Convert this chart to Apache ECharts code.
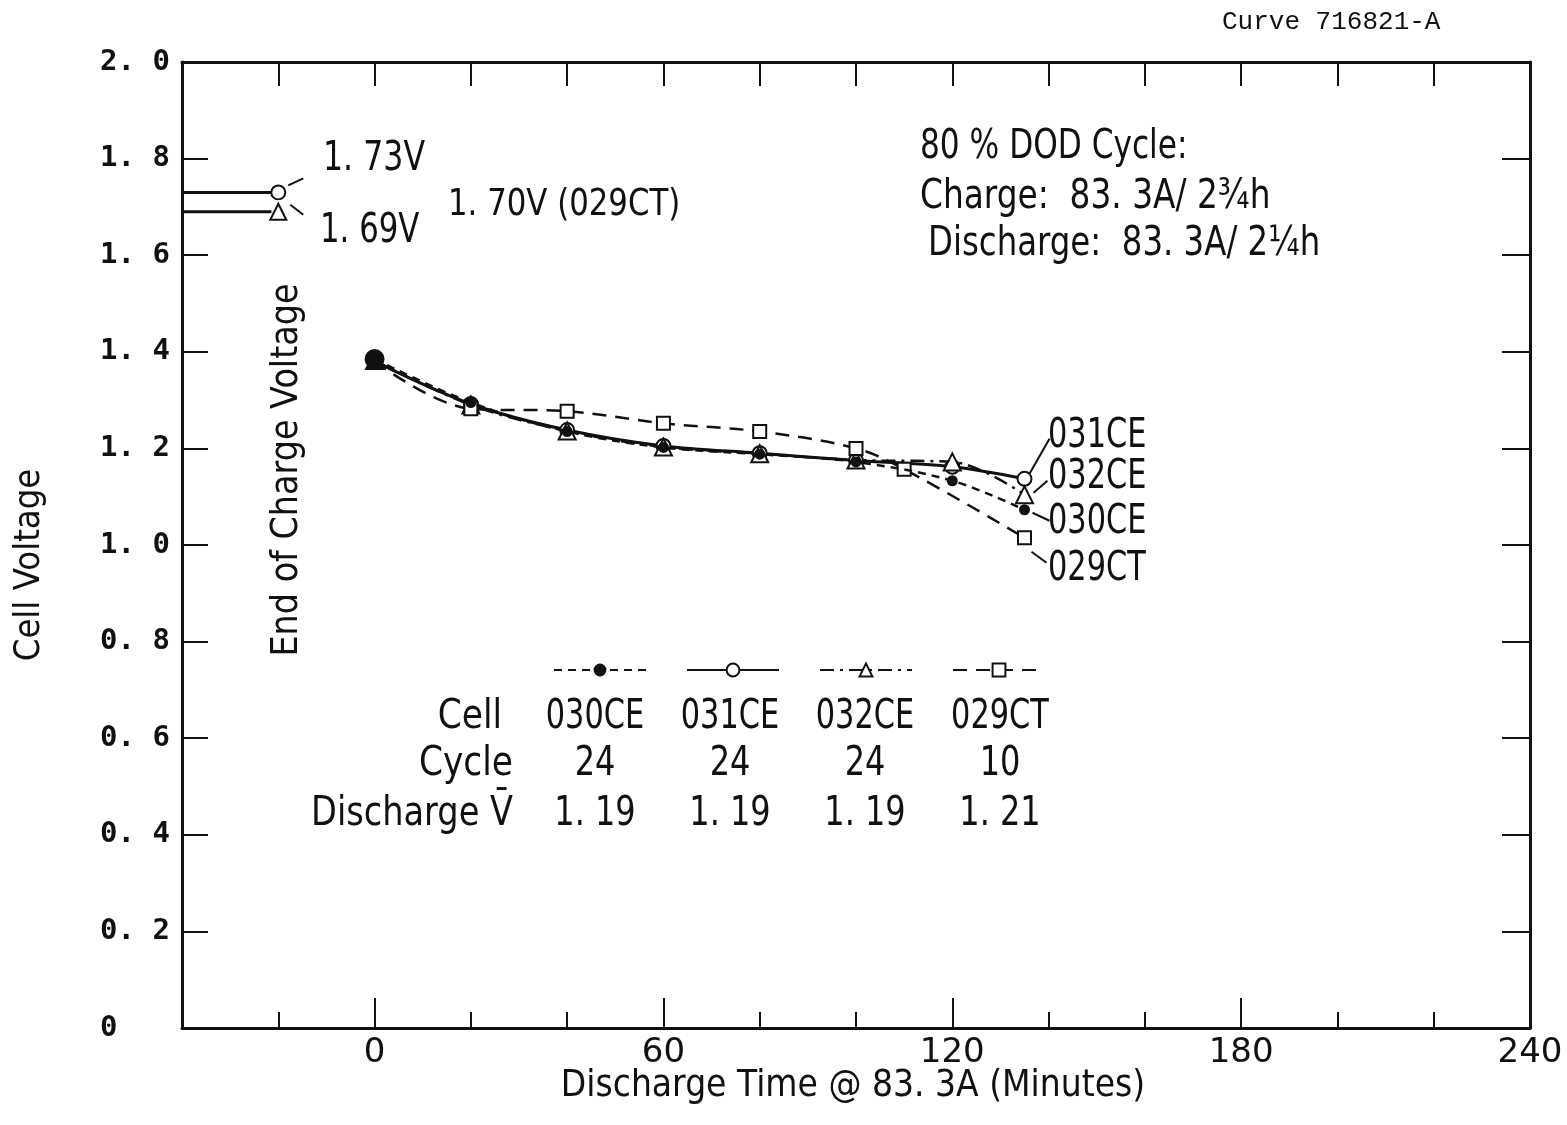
<!DOCTYPE html>
<html><head><meta charset="utf-8">
<script src="https://cdn.jsdelivr.net/npm/echarts@6/dist/echarts.min.js"></script>
<style>html,body{margin:0;padding:0;background:#fff}#c{width:1567px;height:1125px}</style>
</head><body><div id="c"></div>
<script>
// ---- data ----
const times      = [0, 20, 40, 60, 80, 100, 120, 135];
const times029   = [0, 20, 40, 60, 80, 100, 110, 135];
const v030CE     = [1.385, 1.295, 1.235, 1.202, 1.188, 1.172, 1.133, 1.073];
const v031CE     = [1.380, 1.292, 1.238, 1.205, 1.190, 1.175, 1.162, 1.137];
const v032CE     = [1.382, 1.290, 1.236, 1.203, 1.189, 1.176, 1.172, 1.104];
const v029CT     = [1.380, 1.282, 1.277, 1.252, 1.235, 1.200, 1.157, 1.015];
const eocStart   = -40;
const eocTime    = -20;
const eocCells   = ['031CE', '029CT', '032CE'];
const eocVolts   = [1.73, 1.70, 1.69];
const cells      = ['030CE', '031CE', '032CE', '029CT'];
const cycles     = ['24', '24', '24', '10'];
const meanV      = ['1. 19', '1. 19', '1. 19', '1. 21'];
const xLabelVals = [0, 60, 120, 180, 240];
const xMajorTicks = [0, 60, 120, 180];

const SANS = "'DejaVu Sans','Noto Sans',sans-serif";
const MONO = "'DejaVu Sans Mono','Liberation Mono',monospace";
const BLACK = '#111';

function pairs(xs, ys) { return xs.map((x, i) => [x, ys[i]]); }

const chart = echarts.init(document.getElementById('c'), null, {renderer: 'canvas'});

const baseX = {type: 'value', min: -40, max: 240, interval: 20, splitLine: {show: false}};
const option = {
  backgroundColor: '#fff',
  animation: false,
  grid: {left: 182, right: 37, top: 62, bottom: 97, containLabel: false},
  xAxis: [
    Object.assign({}, baseX, {
      position: 'bottom',
      axisLine: {show: true, onZero: false, lineStyle: {color: BLACK, width: 3}},
      axisTick: {show: true, inside: true, length: 16, lineStyle: {color: BLACK, width: 2}},
      axisLabel: {
        show: true, margin: 8, color: BLACK, fontFamily: SANS, fontSize: 34,
        formatter: v => (xLabelVals.indexOf(v) >= 0 ? String(v) : '')
      }
    }),
    Object.assign({}, baseX, {
      position: 'bottom',
      axisLine: {show: false, onZero: false},
      axisTick: {show: true, inside: true, length: 30, customValues: xMajorTicks, lineStyle: {color: BLACK, width: 2}},
      axisLabel: {show: false}
    }),
    Object.assign({}, baseX, {
      position: 'top',
      axisLine: {show: true, onZero: false, lineStyle: {color: BLACK, width: 3}},
      axisTick: {show: true, inside: true, length: 24, lineStyle: {color: BLACK, width: 2}},
      axisLabel: {show: false}
    })
  ],
  yAxis: [
    {
      type: 'value', min: 0, max: 2, interval: 0.2, position: 'left',
      splitLine: {show: false},
      axisLine: {show: true, onZero: false, lineStyle: {color: BLACK, width: 3}},
      axisTick: {show: true, inside: true, length: 26, lineStyle: {color: BLACK, width: 2}},
      axisLabel: {
        show: true, align: 'left', margin: 82, color: BLACK,
        fontFamily: MONO, fontWeight: 'bold', fontSize: 29,
        formatter: v => (v === 0 ? '0' : v.toFixed(1).replace('.', '. '))
      }
    },
    {
      type: 'value', min: 0, max: 2, interval: 0.2, position: 'right',
      splitLine: {show: false},
      axisLine: {show: true, onZero: false, lineStyle: {color: BLACK, width: 3}},
      axisTick: {show: true, inside: true, length: 28, lineStyle: {color: BLACK, width: 2}},
      axisLabel: {show: false}
    }
  ],
  legend: {
    data: cells, left: 548, top: 657, orient: 'horizontal',
    itemWidth: 92, itemHeight: 16, itemGap: 39,
    formatter: () => '', textStyle: {fontSize: 1},
    selectedMode: false
  },
  series: [
    {
      name: '031CE', type: 'line', data: pairs(times, v031CE), smooth: 0.35,
      symbol: 'emptyCircle', symbolSize: 14, z: 3,
      itemStyle: {color: BLACK, borderColor: BLACK, borderWidth: 2.5},
      lineStyle: {color: BLACK, width: 3, type: 'solid'}
    },
    {
      name: '032CE', type: 'line', data: pairs(times, v032CE), smooth: 0.35,
      symbol: 'emptyTriangle', symbolSize: 17, z: 3,
      itemStyle: {color: BLACK, borderColor: BLACK, borderWidth: 2.5},
      lineStyle: {color: BLACK, width: 2.5, type: [14, 6, 3, 6]}
    },
    {
      name: '029CT', type: 'line', data: pairs(times029, v029CT), smooth: 0.35,
      symbol: 'emptyRect', symbolSize: 13, z: 3,
      itemStyle: {color: BLACK, borderColor: BLACK, borderWidth: 2.5},
      lineStyle: {color: BLACK, width: 2.5, type: [14, 9]}
    },
    {
      name: '030CE', type: 'line', data: pairs(times, v030CE), smooth: 0.35,
      symbol: 'circle', z: 5,
      symbolSize: (val, p) => (p.dataIndex === 0 ? 20 : 11),
      itemStyle: {color: BLACK},
      lineStyle: {color: BLACK, width: 2.5, type: [8, 6]}
    },
    // end-of-charge voltages
    {
      name: 'eoc-' + eocCells[0], type: 'line', silent: true, z: 3,
      data: [{value: [eocStart, eocVolts[0]], symbol: 'none'}, {value: [eocTime, eocVolts[0]]}],
      symbol: 'emptyCircle', symbolSize: 14,
      itemStyle: {color: BLACK, borderColor: BLACK, borderWidth: 2.5},
      lineStyle: {color: BLACK, width: 3}
    },
    {
      name: 'eoc-' + eocCells[1], type: 'scatter', silent: true, z: 3,
      data: [[eocTime, eocVolts[1]]],
      symbol: 'emptyRect', symbolSize: 12,
      itemStyle: {color: '#fff', borderColor: BLACK, borderWidth: 2.5}
    },
    {
      name: 'eoc-' + eocCells[2], type: 'line', silent: true, z: 3,
      data: [{value: [eocStart, eocVolts[2]], symbol: 'none'}, {value: [eocTime, eocVolts[2]]}],
      symbol: 'emptyTriangle', symbolSize: 16,
      itemStyle: {color: BLACK, borderColor: BLACK, borderWidth: 2.5},
      lineStyle: {color: BLACK, width: 3}
    }
  ]
};
chart.setOption(option);

// ---- annotations ----
function px(x, y) { return chart.convertToPixel({xAxisIndex: 0, yAxisIndex: 0}, [x, y]); }
function txt(text, x, y, size, align, sx, extra, family) {
  return Object.assign({
    type: 'text', x: x, y: y, silent: true, z: 50, scaleX: sx || 1,
    style: {text: text, fill: BLACK, font: 'normal ' + size + 'px ' + (family || SANS),
            textAlign: align || 'left', textVerticalAlign: 'middle'}
  }, extra || {});
}
function seg(a, b) {
  return {type: 'line', silent: true, z: 50,
    shape: {x1: a[0], y1: a[1], x2: b[0], y2: b[1]},
    style: {stroke: BLACK, lineWidth: 2}};
}
const g = [];
g.push(txt('Curve 716821-A', 1222, 22, 26, 'left', 1, null, "'Liberation Mono',monospace"));
g.push(txt('80 % DOD Cycle:', 920, 148, 40, 'left', 0.78));
g.push(txt('Charge:  83. 3A/ 2\u00BEh', 920, 198, 40, 'left', 0.82));
g.push(txt('Discharge:  83. 3A/ 2\u00BCh', 928, 245, 40, 'left', 0.81));
g.push(txt('End of Charge Voltage', 287, 470, 38, 'center', 0.88, {rotation: Math.PI / 2}));
g.push(txt('Cell Voltage', 30, 565, 36, 'center', 0.9, {rotation: Math.PI / 2}));
g.push(txt('Discharge Time @ 83. 3A (Minutes)', 853, 1086, 38, 'center', 0.87));

// end-of-charge labels
const pC = px(eocTime, eocVolts[0]);
const pT = px(eocTime, eocVolts[2]);
g.push(txt('1. 73V', 323, 160, 40, 'left', 0.79));
g.push(txt('1. 69V', 320, 232, 40, 'left', 0.77));
g.push(txt('1. 70V (029CT)', 448, 205, 38, 'left', 0.81));
g.push(seg([pC[0] + 10, pC[1] - 7], [pC[0] + 25, pC[1] - 14]));
g.push(seg([pT[0] + 12, pT[1] - 7], [pT[0] + 25, pT[1] + 3]));

// end labels on curves
const last = times.length - 1;
const e031 = px(times[last], v031CE[last]);
const e032 = px(times[last], v032CE[last]);
const e030 = px(times[last], v030CE[last]);
const e029 = px(times029[last], v029CT[last]);
g.push(seg([e031[0] + 5, e031[1] - 5], [e031[0] + 25, e031[1] - 40]));
g.push(seg([e032[0] + 9, e032[1] - 2], [e032[0] + 23, e032[1] - 14]));
g.push(seg([e030[0] + 8, e030[1] + 3], [e030[0] + 25, e030[1] + 11]));
g.push(seg([e029[0] + 7, e029[1] + 14], [e029[0] + 22, e029[1] + 25]));
g.push(txt('031CE', 1048, 437, 40, 'left', 0.76));
g.push(txt('032CE', 1048, 478, 40, 'left', 0.76));
g.push(txt('030CE', 1048, 523, 40, 'left', 0.76));
g.push(txt('029CT', 1048, 570, 40, 'left', 0.76));

// legend table
const colX = [595, 730, 865, 1000];
g.push(txt('Cell', 502, 718, 40, 'right', 0.86));
g.push(txt('Cycle', 513, 765, 40, 'right', 0.86));
g.push(txt('Discharge V\u0304', 513, 815, 40, 'right', 0.84));
cells.forEach((c, i) => {
  g.push(txt(c, colX[i], 718, 40, 'center', 0.76));
  g.push(txt(cycles[i], colX[i], 765, 40, 'center', 0.8));
  g.push(txt(meanV[i], colX[i], 815, 40, 'center', 0.8));
});
chart.setOption({graphic: g});
</script></body></html>
